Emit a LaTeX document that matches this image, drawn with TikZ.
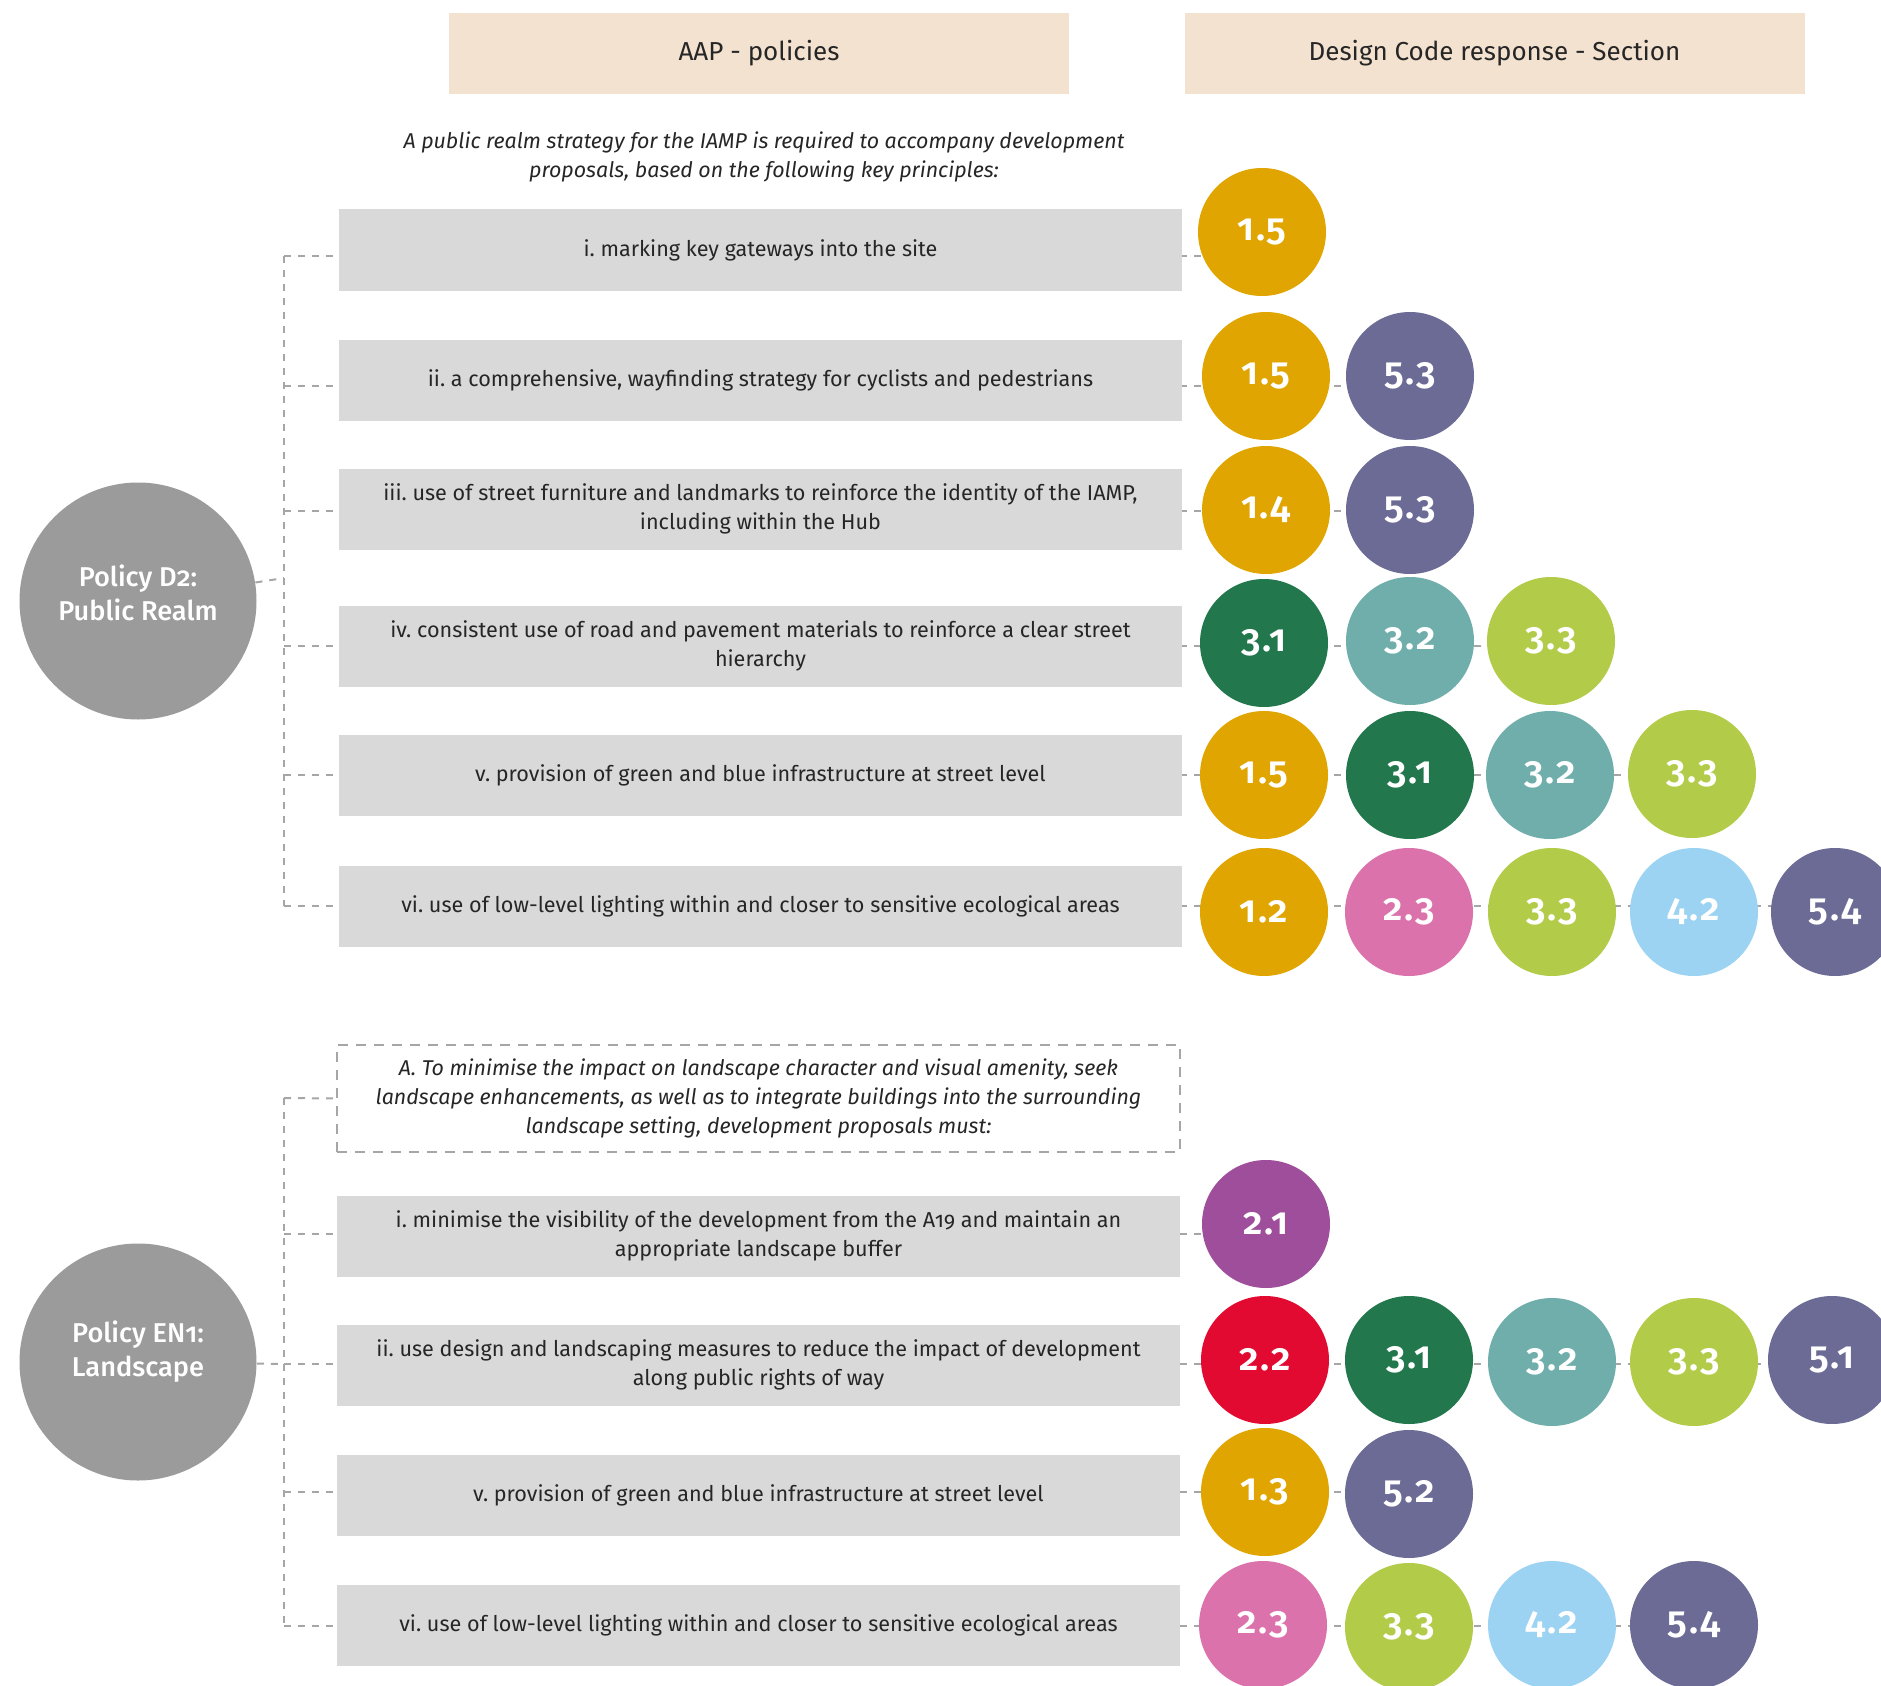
\documentclass[tikz,border=0pt]{standalone}
\usepackage{fontspec}
\setmainfont{Fira Sans}[Numbers=OldStyle]
\newfontfamily\markfont{Fira Sans SemiBold}[Numbers=OldStyle, LetterSpace=4]
\newfontfamily\policyfont{Fira Sans Medium}[Numbers=OldStyle]
\usetikzlibrary{backgrounds}
\frenchspacing

\definecolor{headfill}{HTML}{F2E2CF}
\definecolor{boxgray}{HTML}{D9D9D9}
\definecolor{policygray}{HTML}{9B9B9B}
\definecolor{linkgray}{HTML}{A6A6A6}
\definecolor{textdark}{HTML}{262626}
\definecolor{cOrange}{HTML}{E0A500}
\definecolor{cPurple}{HTML}{6B6B95}
\definecolor{cGreen}{HTML}{22774D}
\definecolor{cTeal}{HTML}{6FAEAA}
\definecolor{cLime}{HTML}{B2CC4A}
\definecolor{cPink}{HTML}{DC72AC}
\definecolor{cSky}{HTML}{9DD3F2}
\definecolor{cPlum}{HTML}{9E4E9A}
\definecolor{cRed}{HTML}{E20A31}

% one coloured section marker
\newcommand{\codedot}[5]{\node[codedisc, fill=#4] (#1) at (#2,#3) {#5};}

\begin{document}
\begin{tikzpicture}[x=0.5pt,y=-0.5pt,
  headbox/.style={fill=headfill, minimum width=310pt, minimum height=40.5pt, inner sep=0pt,
    text=textdark, font=\fontsize{13}{15}\selectfont},
  itembox/.style={fill=boxgray, minimum width=421.5pt, minimum height=40.5pt, inner sep=0pt,
    align=center, text=textdark, font=\fontsize{10.8}{14.5}\selectfont},
  introtext/.style={align=center, inner sep=0pt, text=textdark,
    font=\fontsize{10.7}{14.5}\selectfont\itshape},
  codedisc/.style={circle, minimum size=64pt, inner sep=0pt, text=white,
    font=\fontsize{19}{19}\markfont},
  policydisc/.style={circle, fill=policygray, minimum size=118.5pt, inner sep=0pt},
  policylabel/.style={text=white, align=center, inner sep=0pt,
    font=\fontsize{13.6}{17}\policyfont},
  link/.style={draw=linkgray, line width=1pt, dash pattern=on 3.5pt off 3.5pt},
  framelink/.style={draw=linkgray, line width=1pt, dash pattern=on 5pt off 4pt}]

\useasboundingbox (0,0) rectangle (1881,1686);

% column headings
\node[headbox] (hA) at (759,53.5) {AAP - policies};
\node[headbox] (hB) at (1494.5,53.5) {Design Code response - Section};

% ---------- Policy D2 ----------
\node[introtext] (intro) at (764,157) {A public realm strategy for the IAMP is required to accompany development\\proposals, based on the following key principles:};

\node[policydisc, label={[policylabel, yshift=4pt]center:Policy D2:\\Public Realm}] (d2) at (138,601) {};

\node[itembox] (r1) at (760.5,250) {i. marking key gateways into the site};
\node[itembox] (r2) at (760.5,380.5) {ii. a comprehensive, wayfinding strategy for cyclists and pedestrians};
\node[itembox] (r3) at (760.5,509) {iii. use of street furniture and landmarks to reinforce the identity of the IAMP,\\including within the Hub};
\node[itembox] (r4) at (760.5,646) {iv. consistent use of road and pavement materials to reinforce a clear street\\hierarchy};
\node[itembox] (r5) at (760.5,775.5) {v. provision of green and blue infrastructure at street level};
\node[itembox] (r6) at (760.5,906) {vi. use of low-level lighting within and closer to sensitive ecological areas};

\codedot{r1a}{1262}{232}{cOrange}{1.5}
\codedot{r2a}{1266}{376}{cOrange}{1.5}
\codedot{r2b}{1410}{376}{cPurple}{5.3}
\codedot{r3a}{1266}{510}{cOrange}{1.4}
\codedot{r3b}{1410}{510}{cPurple}{5.3}
\codedot{r4a}{1264}{643}{cGreen}{3.1}
\codedot{r4b}{1410}{641}{cTeal}{3.2}
\codedot{r4c}{1551}{641}{cLime}{3.3}
\codedot{r5a}{1264}{775}{cOrange}{1.5}
\codedot{r5b}{1410}{775}{cGreen}{3.1}
\codedot{r5c}{1550}{775}{cTeal}{3.2}
\codedot{r5d}{1692}{774}{cLime}{3.3}
\codedot{r6a}{1264}{912}{cOrange}{1.2}
\codedot{r6b}{1409}{912}{cPink}{2.3}
\codedot{r6c}{1552}{912}{cLime}{3.3}
\codedot{r6d}{1694}{912}{cSky}{4.2}
\codedot{r6e}{1835}{912}{cPurple}{5.4}

% ---------- Policy EN1 ----------
\node[framelink, minimum width=421.5pt, minimum height=53.5pt, inner sep=0pt, align=center,
  text=textdark, font=\fontsize{10.7}{14.5}\selectfont\itshape] (b0) at (758.5,1098.5)
  {A. To minimise the impact on landscape character and visual amenity, seek\\landscape enhancements, as well as to integrate buildings into the surrounding\\landscape setting, development proposals must:};

\node[policydisc, label={[policylabel, yshift=5pt]center:Policy EN1:\\Landscape}] (en1) at (138,1362) {};

\node[itembox] (b1) at (758.5,1236) {i. minimise the visibility of the development from the A19 and maintain an\\appropriate landscape buffer};
\node[itembox] (b2) at (758.5,1365) {ii. use design and landscaping measures to reduce the impact of development\\along public rights of way};
\node[itembox] (b3) at (758.5,1495) {v. provision of green and blue infrastructure at street level};
\node[itembox] (b4) at (758.5,1625) {vi. use of low-level lighting within and closer to sensitive ecological areas};

\codedot{b1a}{1266}{1224}{cPlum}{2.1}
\codedot{b2a}{1265}{1360}{cRed}{2.2}
\codedot{b2b}{1409}{1360}{cGreen}{3.1}
\codedot{b2c}{1552}{1362}{cTeal}{3.2}
\codedot{b2d}{1694}{1362}{cLime}{3.3}
\codedot{b2e}{1832}{1360}{cPurple}{5.1}
\codedot{b3a}{1265}{1492}{cOrange}{1.3}
\codedot{b3b}{1409}{1494}{cPurple}{5.2}
\codedot{b4a}{1263}{1625}{cPink}{2.3}
\codedot{b4b}{1409}{1627}{cLime}{3.3}
\codedot{b4c}{1552}{1625}{cSky}{4.2}
\codedot{b4d}{1694}{1625}{cPurple}{5.4}

% trunk points of the dashed trees
\coordinate (t1) at (284,256);
\coordinate (t2) at (284,386);
\coordinate (t3) at (284,511);
\coordinate (t4) at (284,646);
\coordinate (t5) at (284,775);
\coordinate (t6) at (284,906);
\coordinate (td) at (284,578);
\coordinate (u0) at (284,1098);
\coordinate (u1) at (284,1234);
\coordinate (u2) at (284,1364);
\coordinate (u3) at (284,1492);
\coordinate (u4) at (284,1626);

\begin{scope}[on background layer]
  \draw[link] (t1) -- (t6);
  \draw[link] (d2) -- (td);
  \draw[link] (t1) -- (t1 -| r1a);
  \draw[link] (t2) -- (t2 -| r2b);
  \draw[link] (t3) -- (t3 -| r3b);
  \draw[link] (t4) -- (t4 -| r4c);
  \draw[link] (t5) -- (t5 -| r5d);
  \draw[link] (t6) -- (t6 -| r6e);

  \draw[link] (u0) -- (u4);
  \draw[link] (en1) -- (u2);
  \draw[link] (u0) -- (b0.west);
  \draw[link] (u1) -- (u1 -| b1a);
  \draw[link] (u2) -- (u2 -| b2e);
  \draw[link] (u3) -- (u3 -| b3b);
  \draw[link] (u4) -- (u4 -| b4d);
\end{scope}
\end{tikzpicture}
\end{document}
